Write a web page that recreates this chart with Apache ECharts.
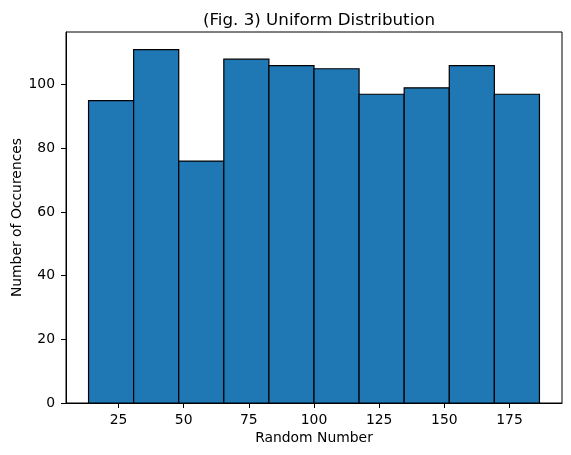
<!DOCTYPE html>
<html>
<head>
<meta charset="utf-8">
<script src="https://cdn.jsdelivr.net/npm/echarts@6/dist/echarts.min.js"></script>
<style>html,body{margin:0;padding:0;background:#fff;}#c{width:571px;height:455px;}</style>
</head>
<body>
<div id="c"></div>
<script>
const binStart = 13.5;
const binEnd = 186.5;
const counts = [95, 111, 76, 108, 106, 105, 97, 99, 106, 97];
const xTicks = [25, 50, 75, 100, 125, 150, 175];
const yTicks = [0, 20, 40, 60, 80, 100];
const titleText = '(Fig. 3) Uniform Distribution';
const xLabel = 'Random Number';
const yLabel = 'Number of Occurences';

const width = (binEnd - binStart) / counts.length;
const data = counts.map((c, i) => [binStart + i * width, binStart + (i + 1) * width, c]);
const span = binEnd - binStart;
const xMin = binStart - 0.05 * span, xMax = binEnd + 0.05 * span;
const yMax = Math.max(...counts) * 1.05;
const font = 'DejaVu Sans';

const chart = echarts.init(document.getElementById('c'), null, {renderer: 'canvas'});
chart.setOption({
  animation: false,
  backgroundColor: '#fff',
  title: {
    text: titleText, left: 314, top: 7, textAlign: 'center',
    textStyle: {fontFamily: font, fontSize: 16.7, fontWeight: 'normal', color: '#000'}
  },
  grid: {left: 66, top: 32, right: 9, bottom: 52, containLabel: false, outerBoundsMode: 'none',
    show: true, borderColor: '#000', borderWidth: 1, backgroundColor: 'transparent'},
  xAxis: {
    type: 'value', min: xMin, max: xMax,
    name: xLabel, nameLocation: 'middle', nameGap: 28, nameMoveOverlap: false,
    nameTextStyle: {fontFamily: font, fontSize: 13.9, color: '#000'},
    splitLine: {show: false},
    axisLine: {show: true, lineStyle: {color: '#000', width: 1}},
    axisTick: {show: true, length: 5, lineStyle: {color: '#000', width: 1}, customValues: xTicks},
    axisLabel: {fontFamily: font, fontSize: 13.9, color: '#000', margin: 10, customValues: xTicks}
  },
  yAxis: {
    type: 'value', min: 0, max: yMax,
    name: yLabel, nameLocation: 'middle', nameGap: 42, nameMoveOverlap: false,
    nameTextStyle: {fontFamily: font, fontSize: 13.9, color: '#000'},
    splitLine: {show: false},
    axisLine: {show: true, lineStyle: {color: '#000', width: 1}},
    axisTick: {show: true, length: 5, lineStyle: {color: '#000', width: 1}, customValues: yTicks},
    axisLabel: {fontFamily: font, fontSize: 13.9, color: '#000', margin: 11, customValues: yTicks}
  },
  series: [{
    type: 'custom',
    data: data,
    encode: {x: [0, 1], y: 2},
    renderItem: function (params, api) {
      const p0 = api.coord([api.value(0), api.value(2)]);
      const p1 = api.coord([api.value(1), 0]);
      return {
        type: 'rect',
        shape: {x: p0[0], y: p0[1], width: p1[0] - p0[0], height: p1[1] - p0[1]},
        style: {fill: '#1f77b4', stroke: '#000', lineWidth: 1.2}
      };
    }
  }]
});
</script>
</body>
</html>
